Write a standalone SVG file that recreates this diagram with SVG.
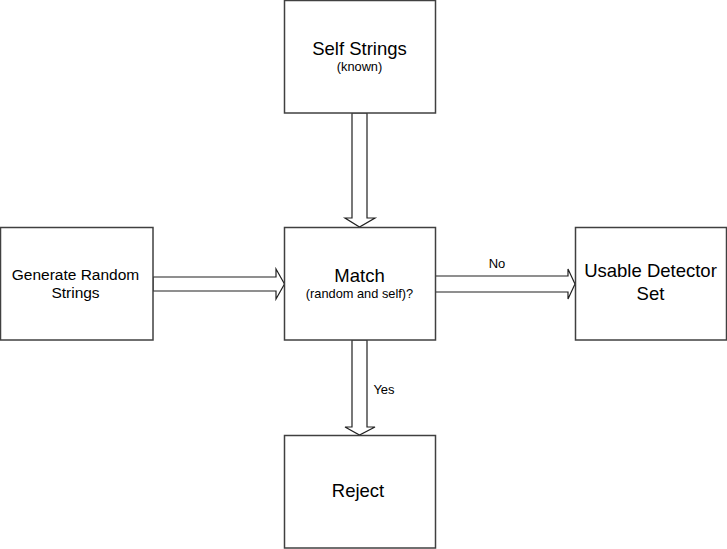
<svg xmlns="http://www.w3.org/2000/svg" width="727" height="549" viewBox="0 0 727 549">
<style>
.box{fill:#fff;stroke:#404040;stroke-width:1.5}
.arr{fill:#fff;stroke:#202020;stroke-width:1.2;stroke-linejoin:miter}
text{font-family:"Liberation Sans",Arial,sans-serif;fill:#000;text-anchor:middle}
.big{font-size:18.5px}
.med{font-size:15.5px}
.small{font-size:12.8px}
.lbl{font-size:13px}
</style>
<rect width="727" height="549" fill="#fff"/>
<g id="connectors">
<polygon class="arr" points="352,113 367,113 367,218 375,218 359.5,227 345,218 352,218"/>
<polygon class="arr" points="153,277 276,277 276,269 284.5,284 276,299 276,291 153,291"/>
<polygon class="arr" points="435,276 568,276 568,269 575,284 568,299 568,292 435,292"/>
<polygon class="arr" points="352,340 367,340 367,427 375,427 359.5,435 345,427 352,427"/>
<text x="497" y="268" class="lbl">No</text>
<text x="384" y="394" class="lbl">Yes</text>
</g>
<g id="self">
<rect class="box" x="284.5" y="0.5" width="151" height="112.5"/>
<text x="359.5" y="55" class="big">Self Strings</text>
<text x="359.5" y="71" class="small">(known)</text>
</g>
<g id="generate">
<rect class="box" x="0.5" y="227.5" width="152.5" height="112.5"/>
<text x="75.5" y="280" class="med">Generate Random</text>
<text x="75.5" y="298" class="med">Strings</text>
</g>
<g id="match">
<rect class="box" x="284.5" y="227.5" width="151" height="112.5"/>
<text x="359.5" y="282" class="big">Match</text>
<text x="359.5" y="297.5" class="small">(random and self)?</text>
</g>
<g id="usable">
<rect class="box" x="575.5" y="227.5" width="151" height="112.5"/>
<text x="650.5" y="277" class="big">Usable Detector</text>
<text x="650.5" y="300" class="big">Set</text>
</g>
<g id="reject">
<rect class="box" x="284.5" y="435.5" width="151" height="112.5"/>
<text x="358" y="497" class="big">Reject</text>
</g>
</svg>
